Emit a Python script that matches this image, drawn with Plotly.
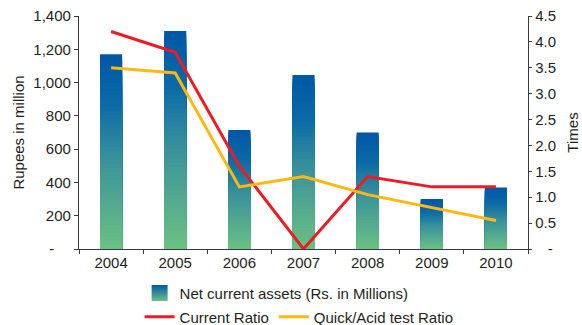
import plotly.graph_objects as go

# Financial years
years = ["2004", "2005", "2006", "2007", "2008", "2009", "2010"]

# Net current assets, Rs. in millions (left axis)
net_current_assets = [1170, 1310, 715, 1045, 700, 300, 370]

# Liquidity ratios, times (right axis)
current_ratio = [4.2, 3.8, 1.6, 0.0, 1.4, 1.2, 1.2]
quick_ratio = [3.5, 3.4, 1.2, 1.4, 1.05, 0.8, 0.55]

# Axis ticks (accounting style dash for zero)
left_ticks = [0, 200, 400, 600, 800, 1000, 1200, 1400]
left_labels = ["-\u00a0\u00a0\u00a0\u00a0", "200", "400", "600", "800", "1,000", "1,200", "1,400"]
right_ticks = [0, 0.5, 1.0, 1.5, 2.0, 2.5, 3.0, 3.5, 4.0, 4.5]
right_labels = ["\u00a0\u00a0\u00a0-", "0.5", "1.0", "1.5", "2.0", "2.5", "3.0", "3.5", "4.0", "4.5"]

FONT = "Liberation Sans, Arial, sans-serif"
TEXT = "#231f20"
AXIS = "#3a3a3a"
RED = "#ed1c24"
YELLOW = "#fdb813"

# vertical gradient stops for the bars: (fraction of bar height, rgb)
grad_stops = [(0.0, (108, 193, 131)), (0.45, (59, 147, 154)), (0.75, (10, 106, 166)), (1.0, (0, 87, 167))]


def grad_color(t):
    for (t0, c0), (t1, c1) in zip(grad_stops[:-1], grad_stops[1:]):
        if t0 <= t <= t1:
            f = (t - t0) / (t1 - t0)
            r, g, b = (round(a + (b_ - a) * f) for a, b_ in zip(c0, c1))
            return f"rgb({r},{g},{b})"
    r, g, b = grad_stops[-1][1]
    return f"rgb({r},{g},{b})"


fig = go.Figure()

# Gradient bars: overlaid layers, tallest (top colour) first, shortest (bottom colour) last
N_LAYERS = 48
for k in range(N_LAYERS):
    frac = (N_LAYERS - k) / N_LAYERS
    mid = (N_LAYERS - k - 0.5) / N_LAYERS
    fig.add_trace(go.Bar(
        x=years,
        y=[v * frac for v in net_current_assets],
        marker=dict(color=grad_color(mid), line=dict(width=0)),
        showlegend=False,
        hoverinfo="skip" if k else "x+y",
        yaxis="y",
    ))

# Legend entry for the bars with a gradient swatch
fig.add_trace(go.Scatter(
    x=[None], y=[None], mode="markers",
    name="Net current assets (Rs. in Millions)",
    marker=dict(symbol="square", size=17, color="rgb(0,87,167)",
                gradient=dict(type="vertical", color="rgb(108,193,131)")),
    legend="legend",
))

fig.add_trace(go.Scatter(
    x=years, y=current_ratio, mode="lines", name="Current Ratio",
    line=dict(color=RED, width=3), yaxis="y2", legend="legend2",
))
fig.add_trace(go.Scatter(
    x=years, y=quick_ratio, mode="lines", name="Quick/Acid test Ratio",
    line=dict(color=YELLOW, width=3), yaxis="y2", legend="legend2",
))

fig.update_layout(
    width=582, height=325,
    margin=dict(l=79, r=54, t=16, b=76, autoexpand=False),
    paper_bgcolor="white", plot_bgcolor="white",
    font=dict(family=FONT, size=15, color=TEXT),
    barmode="overlay", bargap=0.655,
    xaxis=dict(
        type="category", showgrid=False, showline=True, linecolor=AXIS, linewidth=1.3,
        ticks="outside", ticklen=4, tickcolor=AXIS, tickson="boundaries",
        tickfont=dict(size=15, color=TEXT), zeroline=False,
    ),
    yaxis=dict(
        range=[0, 1400], tickvals=left_ticks, ticktext=left_labels,
        showgrid=False, zeroline=False, showline=True, linecolor=AXIS, linewidth=1.3,
        ticks="outside", ticklen=4, tickcolor=AXIS, tickfont=dict(size=15, color=TEXT),
        title=dict(text="Rupees in million", font=dict(size=15, color=TEXT), standoff=5),
    ),
    yaxis2=dict(
        range=[0, 4.5], tickvals=right_ticks, ticktext=right_labels,
        overlaying="y", side="right",
        showgrid=False, zeroline=False, showline=True, linecolor=AXIS, linewidth=1.3,
        ticks="outside", ticklen=3, tickcolor=AXIS, tickfont=dict(size=15, color=TEXT),
        title=dict(text="Times", font=dict(size=15, color=TEXT), standoff=12),
    ),
    legend=dict(
        orientation="h", x=0.135, xanchor="left", y=-0.19, yanchor="middle",
        font=dict(size=15, color=TEXT), bgcolor="rgba(0,0,0,0)",
    ),
    legend2=dict(
        orientation="h", x=0.135, xanchor="left", y=-0.292, yanchor="middle",
        font=dict(size=15, color=TEXT), bgcolor="rgba(0,0,0,0)",
    ),
    showlegend=True,
)

fig.write_html("out.html")
